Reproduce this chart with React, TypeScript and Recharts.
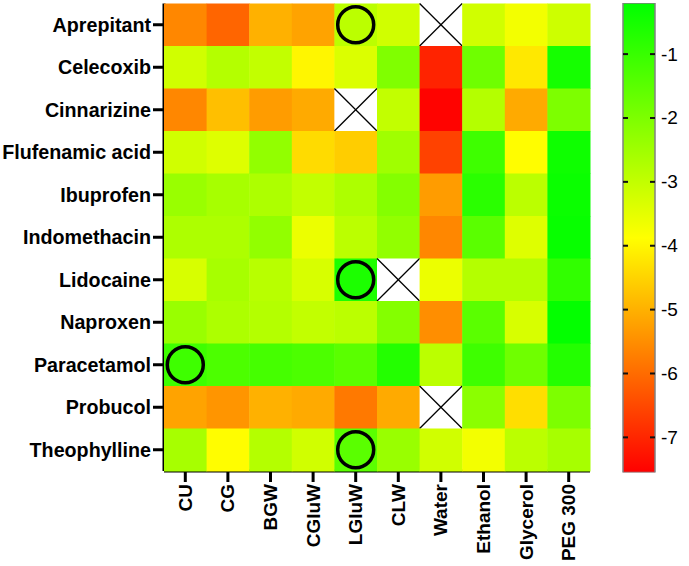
import React from 'react';
import {
    ScatterChart,
    Scatter,
    XAxis,
    YAxis,
    BarChart,
    Bar,
} from 'recharts';

const drugs = [
    'Aprepitant',
    'Celecoxib',
    'Cinnarizine',
    'Flufenamic acid',
    'Ibuprofen',
    'Indomethacin',
    'Lidocaine',
    'Naproxen',
    'Paracetamol',
    'Probucol',
    'Theophylline',
];
const solvents = ['CU', 'CG', 'BGW', 'CGluW', 'LGluW', 'CLW', 'Water', 'Ethanol', 'Glycerol', 'PEG 300'];

// log solubility, null = not measured (crossed cell)
const aprepitant = [-5.6, -6.1, -5.0, -5.2, -2.9, -3.2, null, -3.2, -3.7, -3.15];
const celecoxib = [-3.2, -2.8, -3.0, -4.0, -3.35, -2.05, -7.05, -1.8, -4.2, -0.5];
const cinnarizine = [-5.6, -4.8, -5.3, -5.1, null, -3.0, -7.5, -2.8, -5.1, -2.0];
const flufenamicAcid = [-3.2, -3.4, -2.3, -4.4, -4.6, -2.5, -6.6, -1.1, -3.9, -0.4];
const ibuprofen = [-2.4, -2.6, -2.7, -3.0, -2.7, -2.1, -5.3, -0.8, -2.9, -0.35];
const indomethacin = [-2.7, -2.7, -2.3, -3.6, -2.9, -2.3, -5.6, -1.5, -3.4, -0.3];
const lidocaine = [-3.3, -2.6, -2.85, -3.3, -0.6, null, -3.6, -2.8, -2.8, -0.9];
const naproxen = [-2.4, -2.7, -2.8, -3.0, -2.9, -2.1, -5.5, -1.5, -3.3, -0.25];
const paracetamol = [-1.1, -1.3, -1.2, -1.3, -1.5, -0.7, -2.9, -1.1, -1.8, -0.7];
const probucol = [-5.2, -5.4, -5.0, -5.1, -5.8, -5.1, null, -2.2, -4.35, -2.0];
const theophylline = [-2.6, -3.9, -2.8, -3.2, -1.5, -2.4, -3.2, -3.7, -2.9, -2.6];

const logS = [
    aprepitant,
    celecoxib,
    cinnarizine,
    flufenamicAcid,
    ibuprofen,
    indomethacin,
    lidocaine,
    naproxen,
    paracetamol,
    probucol,
    theophylline,
];

const circled = [
    ['Aprepitant', 'LGluW'],
    ['Lidocaine', 'LGluW'],
    ['Paracetamol', 'CU'],
    ['Theophylline', 'LGluW'],
];

const scaleMin = -7.55;
const scaleMax = -0.2;
const scaleTicks = [-1, -2, -3, -4, -5, -6, -7];

const FONT = '"Liberation Sans", Arial, sans-serif';
const PLOT_W = 426;
const PLOT_H = 467.5;
const CELL_W = PLOT_W / solvents.length;
const CELL_H = PLOT_H / drugs.length;

const colour = (v: number) => {
    let t = (v - scaleMin) / (scaleMax - scaleMin);
    t = Math.max(0, Math.min(1, t));
    if (t < 0.5) return `rgb(255,${Math.round(510 * t)},0)`;
    return `rgb(${Math.round(510 * (1 - t))},255,0)`;
};

const cells = logS.flatMap((row, r) =>
    row.map((v, c) => ({ col: c, row: r, v })),
);
const circles = circled.map(([d, s]) => ({
    col: solvents.indexOf(s),
    row: drugs.indexOf(d),
}));

const CellShape = (props: any) => {
    const { cx, cy, payload } = props;
    const x = cx - CELL_W / 2;
    const y = cy - CELL_H / 2;
    if (payload.v === null) {
        return (
            <g>
                <rect x={x} y={y} width={CELL_W} height={CELL_H} fill="#fff" />
                <line x1={x} y1={y} x2={x + CELL_W} y2={y + CELL_H} stroke="#000" strokeWidth={1.3} />
                <line x1={x + CELL_W} y1={y} x2={x} y2={y + CELL_H} stroke="#000" strokeWidth={1.3} />
            </g>
        );
    }
    return (
        <rect
            x={x}
            y={y}
            width={CELL_W + 0.5}
            height={CELL_H + 0.5}
            fill={colour(payload.v)}
        />
    );
};

const CircleShape = (props: any) => (
    <circle cx={props.cx} cy={props.cy} r={18} fill="none" stroke="#000" strokeWidth={3.5} />
);

const SolventTick = (props: any) => {
    const { x, y, payload } = props;
    return (
        <text
            x={x}
            y={y}
            transform={`rotate(-90, ${x}, ${y})`}
            textAnchor="end"
            dominantBaseline="central"
            fontFamily={FONT}
            fontWeight="bold"
            fontSize={19}
            fill="#000"
        >
            {solvents[payload.value]}
        </text>
    );
};

const ScaleTick = (props: any) => {
    const { x, y, payload } = props;
    const axisX = x - 6;
    return (
        <g>
            <line x1={axisX - 32} x2={axisX - 27} y1={y} y2={y} stroke="#111" strokeWidth={2} />
            <line x1={axisX - 5} x2={axisX} y1={y} y2={y} stroke="#111" strokeWidth={2} />
            <text
                x={x}
                y={y}
                dominantBaseline="central"
                fontFamily={FONT}
                fontSize={19}
                fill="#000"
            >
                {payload.value}
            </text>
        </g>
    );
};

const colourBar = [{ name: 'scale', span: [scaleMin, scaleMax] }];

export default function App() {
    return (
        <div style={{ position: 'relative', width: 689, height: 566 }}>
            <style>{'body{margin:0}'}</style>
            <div style={{ position: 'absolute', left: 0, top: 0 }}>
                <ScatterChart
                    width={600}
                    height={566}
                    margin={{ top: 3.5, right: 10, left: 14, bottom: 0 }}
                >
                    <XAxis
                        type="number"
                        dataKey="col"
                        domain={[-0.5, solvents.length - 0.5]}
                        ticks={solvents.map((_, i) => i)}
                        interval={0}
                        height={95}
                        tick={<SolventTick />}
                        tickSize={11}
                        tickMargin={2}
                        axisLine={{ stroke: '#000', strokeWidth: 3 }}
                        tickLine={{ stroke: '#000', strokeWidth: 3 }}
                    />
                    <YAxis
                        type="number"
                        dataKey="row"
                        domain={[-0.5, drugs.length - 0.5]}
                        reversed
                        ticks={drugs.map((_, i) => i)}
                        interval={0}
                        width={150}
                        tickFormatter={(i: number) => drugs[i]}
                        tick={{ fontSize: 19.7, fontWeight: 'bold', fill: '#000', fontFamily: FONT }}
                        tickSize={11}
                        tickMargin={2}
                        axisLine={{ stroke: '#000', strokeWidth: 3 }}
                        tickLine={{ stroke: '#000', strokeWidth: 3 }}
                    />
                    <XAxis
                        xAxisId="top"
                        orientation="top"
                        type="number"
                        domain={[0, 1]}
                        height={0}
                        tick={false}
                        tickLine={false}
                        axisLine={{ stroke: '#000', strokeWidth: 3 }}
                    />
                    <YAxis
                        yAxisId="right"
                        orientation="right"
                        type="number"
                        domain={[0, 1]}
                        width={0}
                        tick={false}
                        tickLine={false}
                        axisLine={{ stroke: '#000', strokeWidth: 3 }}
                    />
                    <Scatter data={cells} shape={<CellShape />} isAnimationActive={false} />
                    <Scatter data={circles} shape={<CircleShape />} isAnimationActive={false} />
                </ScatterChart>
            </div>
            <div style={{ position: 'absolute', left: 600, top: 0 }}>
                <BarChart
                    width={89}
                    height={566}
                    data={colourBar}
                    margin={{ top: 3, right: 0, left: 23, bottom: 93.5 }}
                    barCategoryGap={0}
                >
                    <defs>
                        <linearGradient id="scaleGrad" x1="0" y1="0" x2="0" y2="1">
                            <stop offset="0%" stopColor="#00ff00" />
                            <stop offset="50%" stopColor="#ffff00" />
                            <stop offset="100%" stopColor="#ff0000" />
                        </linearGradient>
                    </defs>
                    <XAxis dataKey="name" hide />
                    <YAxis
                        orientation="right"
                        type="number"
                        domain={[scaleMin, scaleMax]}
                        ticks={scaleTicks}
                        interval={0}
                        allowDataOverflow
                        width={34}
                        axisLine={false}
                        tickLine={false}
                        tickSize={0}
                        tickMargin={6}
                        tick={<ScaleTick />}
                    />
                    <Bar
                        dataKey="span"
                        fill="url(#scaleGrad)"
                        stroke="#808080"
                        strokeWidth={1.5}
                        isAnimationActive={false}
                    />
                </BarChart>
            </div>
        </div>
    );
}
